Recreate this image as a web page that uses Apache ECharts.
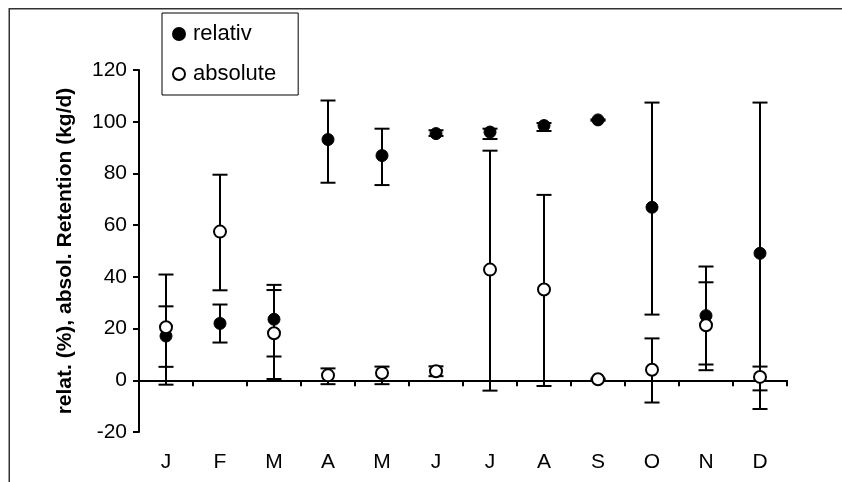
<!DOCTYPE html>
<html>
<head>
<meta charset="utf-8">
<script src="https://cdn.jsdelivr.net/npm/echarts@6/dist/echarts.min.js"></script>
<style>
html,body{margin:0;padding:0;background:#fff;}
#chart{width:842px;height:482px;}
</style>
</head>
<body>
<div id="chart"></div>
<script>
var months = ['J','F','M','A','M','J','J','A','S','O','N','D'];
var yTicks = { min: -20, max: 120, step: 20 };

var relativ     = [17.1, 22.0, 23.6, 93.1, 86.9, 95.4, 96.0, 98.5, 100.7, 66.9, 25.0, 49.1];
var relativLow  = [5.2, 14.6, 9.2, 76.4, 75.5, 94.5, 93.3, 96.4, 100.4, 25.4, 6.1, -11.1];
var relativHigh = [28.6, 29.3, 36.9, 108.2, 97.3, 96.7, 97.3, 99.5, 100.9, 107.4, 44.0, 107.4];

var absolute     = [20.5, 57.5, 18.2, 1.9, 2.8, 3.5, 42.8, 35.1, 0.4, 4.1, 21.3, 1.3];
var absoluteLow  = [-1.7, 34.8, 0.5, -1.5, -1.5, 1.6, -4.0, -2.2, 0.2, -8.6, 3.9, -3.9];
var absoluteHigh = [40.9, 79.5, 34.9, 4.6, 5.3, 5.4, 88.8, 71.7, 0.6, 16.2, 37.9, 5.3];

function errData(low, high) {
  return low.map(function (l, i) { return [i, l, high[i]]; });
}

function errRender(params, api) {
  var i = api.value(0);
  var top = api.coord([i, api.value(2)]);
  var bot = api.coord([i, api.value(1)]);
  var hw = 7.5;
  var st = { stroke: '#000', lineWidth: 2 };
  return {
    type: 'group',
    children: [
      { type: 'line', shape: { x1: top[0], y1: top[1], x2: bot[0], y2: bot[1] }, style: st },
      { type: 'line', shape: { x1: top[0] - hw, y1: top[1], x2: top[0] + hw, y2: top[1] }, style: st },
      { type: 'line', shape: { x1: bot[0] - hw, y1: bot[1], x2: bot[0] + hw, y2: bot[1] }, style: st }
    ]
  };
}

var font = 'Liberation Sans, Arial, sans-serif';
var chart = echarts.init(document.getElementById('chart'), null, { renderer: 'canvas' });
chart.setOption({
  animation: false,
  backgroundColor: '#fff',
  graphic: [{
    type: 'polyline',
    shape: { points: [[9.25, 482], [9.25, 8.75], [842, 8.75]] },
    style: { stroke: '#333', lineWidth: 1.5, fill: null },
    silent: true
  }],
  legend: {
    orient: 'vertical',
    left: 162,
    top: 13,
    padding: [10, 22, 10, 10],
    itemGap: 18,
    itemWidth: 12,
    itemHeight: 12,
    borderColor: '#000',
    borderWidth: 1,
    backgroundColor: '#fff',
    textStyle: { fontFamily: font, fontSize: 22, color: '#000', padding: [0, 0, 0, 3] },
    data: ['relativ', 'absolute']
  },
  grid: { left: 139, top: 70, width: 648, height: 362, containLabel: false, outerBoundsMode: 'none' },
  xAxis: {
    type: 'category',
    data: months,
    boundaryGap: true,
    axisLine: { onZero: true, lineStyle: { color: '#000', width: 2 } },
    axisTick: { show: true, length: 6, lineStyle: { color: '#000', width: 2 } },
    axisLabel: { margin: 20, fontFamily: font, fontSize: 21, color: '#000' },
    splitLine: { show: false }
  },
  yAxis: {
    type: 'value',
    min: yTicks.min,
    max: yTicks.max,
    interval: yTicks.step,
    name: 'relat. (%), absol. Retention (kg/d)',
    nameLocation: 'middle',
    nameGap: 63,
    nameTextStyle: { fontFamily: font, fontSize: 21, fontWeight: 'bold', color: '#000' },
    axisLine: { show: true, onZero: false, lineStyle: { color: '#000', width: 2 } },
    axisTick: { show: true, length: 6, lineStyle: { color: '#000', width: 2 } },
    axisLabel: { margin: 12, fontFamily: font, fontSize: 21, color: '#000' },
    splitLine: { show: false }
  },
  series: [
    {
      name: 'relativ-err', type: 'custom', renderItem: errRender,
      data: errData(relativLow, relativHigh), encode: { x: 0, y: [1, 2] }, z: 2, silent: true
    },
    {
      name: 'absolute-err', type: 'custom', renderItem: errRender,
      data: errData(absoluteLow, absoluteHigh), encode: { x: 0, y: [1, 2] }, z: 2, silent: true
    },
    {
      name: 'relativ', type: 'scatter', data: relativ, symbol: 'circle', symbolSize: 12,
      itemStyle: { color: '#000', borderColor: '#000', borderWidth: 1, opacity: 1 }, z: 3
    },
    {
      name: 'absolute', type: 'scatter', data: absolute, symbol: 'circle', symbolSize: 12,
      itemStyle: { color: '#fff', borderColor: '#000', borderWidth: 2, opacity: 1 }, z: 4
    }
  ]
});
</script>
</body>
</html>
